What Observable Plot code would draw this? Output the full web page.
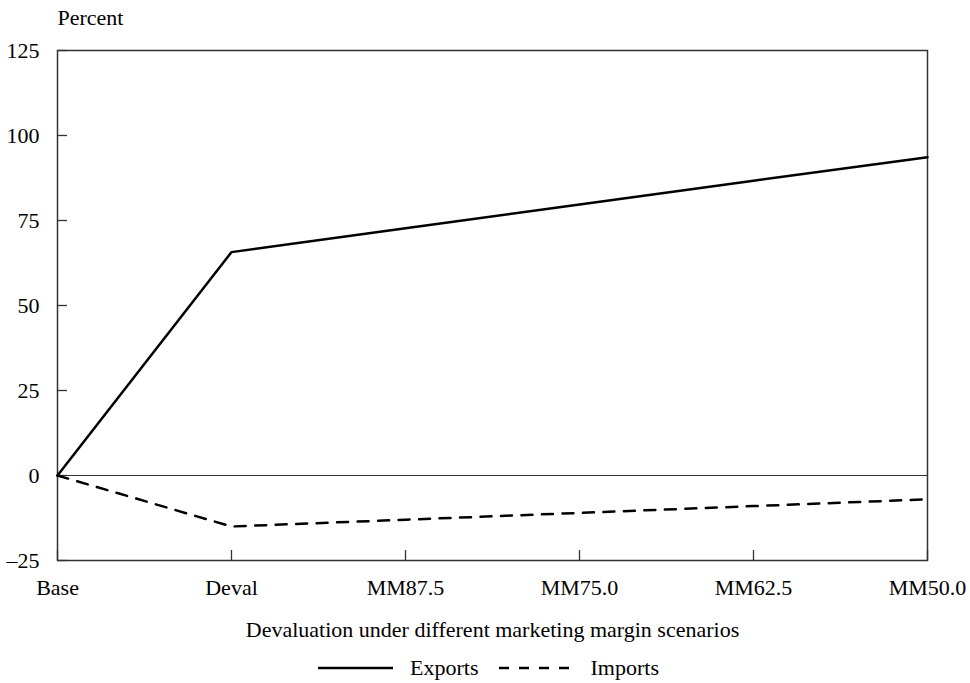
<!DOCTYPE html>
<html>
<head>
<meta charset="utf-8">
<script src="https://cdn.jsdelivr.net/npm/d3@7"></script>
<script src="https://cdn.jsdelivr.net/npm/@observablehq/plot@0.6"></script>
<style>
  html, body { margin: 0; padding: 0; background: #fff; }
  body { width: 970px; font-family: "Liberation Serif", "DejaVu Serif", serif; color: #000; }
  #legend { display: flex; justify-content: center; align-items: center; height: 36px; font-size: 22px; padding-left: 7px; }
  #legend .item { display: flex; align-items: center; }
  #legend svg { display: block; }
</style>
</head>
<body>
<div id="chart"></div>
<div id="legend"></div>
<script>
const categories = ["Base", "Deval", "MM87.5", "MM75.0", "MM62.5", "MM50.0"];
const exportsPct = [0, 65.7, 72.7, 79.7, 86.7, 93.6];
const importsPct = [0, -15, -13, -11, -9, -7];
const yTicks = [-25, 0, 25, 50, 75, 100, 125];
const seriesNames = ["Exports", "Imports"];
const yLabel = "Percent";
const xLabel = "Devaluation under different marketing margin scenarios";

const rows = [];
categories.forEach((c, i) => {
  rows.push({scenario: c, series: seriesNames[0], value: exportsPct[i]});
  rows.push({scenario: c, series: seriesNames[1], value: importsPct[i]});
});

const dashes = {Exports: null, Imports: "11,9.5"};
const fmt = d => d < 0 ? "\u2013" + Math.abs(d) : String(d);
const FS = 22;

const chart = Plot.plot({
  width: 970,
  height: 650,
  marginLeft: 57,
  marginRight: 43,
  marginTop: 50,
  marginBottom: 90,
  style: {fontFamily: "Liberation Serif, DejaVu Serif, serif", fontSize: FS + "px", color: "#000", background: "#fff"},
  x: {type: "point", domain: categories, padding: 0},
  y: {domain: [-25, 125]},
  marks: [
    Plot.ruleY([0], {stroke: "#333", strokeWidth: 1}),
    Plot.axisX({tickSize: -10, text: null, label: null, stroke: "#333", strokeWidth: 1.3}),
    Plot.axisX({tickSize: 0, tickPadding: 19, label: null, fill: "#000", fontSize: FS}),
    Plot.axisY(yTicks, {tickSize: -10, text: null, label: null, stroke: "#333", strokeWidth: 1.3}),
    Plot.axisY(yTicks, {tickSize: 0, tickPadding: 18, label: null, tickFormat: fmt, fill: "#000", fontSize: FS}),
    Plot.frame({stroke: "#333", strokeWidth: 1.5}),
    Plot.line(rows.filter(d => d.series === "Exports"), {x: "scenario", y: "value", stroke: "#000", strokeWidth: 2.5}),
    Plot.line(rows.filter(d => d.series === "Imports"), {x: "scenario", y: "value", stroke: "#000", strokeWidth: 2.5, strokeDasharray: dashes.Imports}),
    Plot.text([yLabel], {frameAnchor: "top-left", lineAnchor: "middle", dy: -33, textAnchor: "start", fontSize: FS, fill: "#000"}),
    Plot.text([xLabel], {frameAnchor: "bottom", lineAnchor: "middle", dy: 69, fontSize: FS, fill: "#000"})
  ]
});
document.getElementById("chart").appendChild(chart);

const legend = d3.select("#legend");
seriesNames.forEach((name, i) => {
  const item = legend.append("div").attr("class", "item").style("margin-left", i ? "20px" : "0");
  const s = item.append("svg").attr("width", 75).attr("height", 10);
  s.append("line").attr("x1", 0).attr("x2", 75).attr("y1", 5).attr("y2", 5)
    .attr("stroke", "#000").attr("stroke-width", 2.5)
    .attr("stroke-dasharray", name === "Imports" ? "10,10" : null);
  item.append("span").style("margin-left", "17px").text(name);
});
</script>
</body>
</html>
